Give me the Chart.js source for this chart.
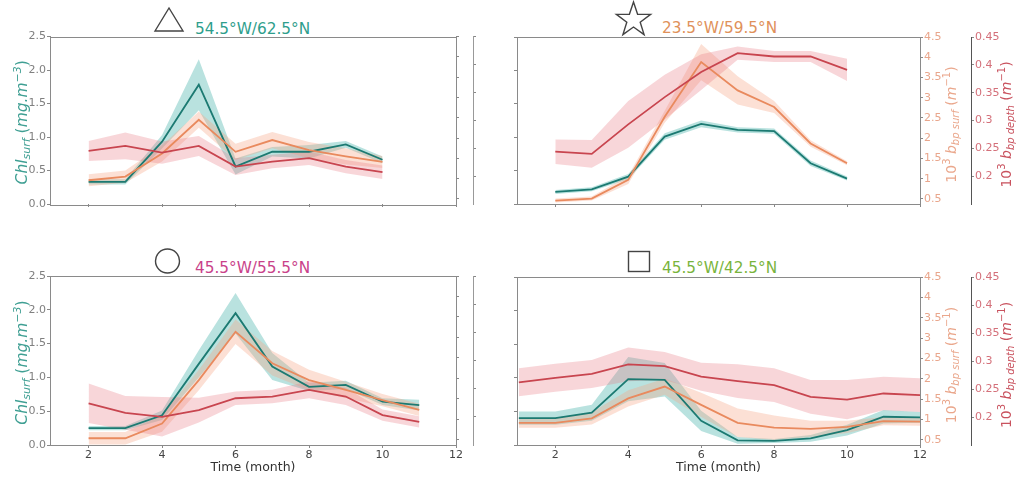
<!DOCTYPE html>
<html>
<head>
<meta charset="utf-8">
<script src="https://cdn.jsdelivr.net/npm/chart.js@4.4.1/dist/chart.umd.min.js"></script>
<style>
  body { margin: 0; background: #fff; width: 1024px; height: 478px; overflow: hidden; position: relative; font-family: "DejaVu Sans", sans-serif; }
  canvas { position: absolute; }
  .ttl { position: absolute; font-size: 15.3px; line-height: 16px; white-space: nowrap; }
  svg { position: absolute; left: 0; top: 0; }
</style>
</head>
<body>
<svg width="1024" height="478">
  <polygon points="155,31 169,8 183,31" fill="none" stroke="#444" stroke-width="1.4"/>
  <path id="star" fill="none" stroke="#444" stroke-width="1.4"/>
  <circle cx="167.5" cy="261" r="12" fill="none" stroke="#444" stroke-width="1.4"/>
  <rect x="628.5" y="251.5" width="21" height="20" fill="none" stroke="#444" stroke-width="1.4"/>
</svg>
<div class="ttl" style="left:195px;top:21px;color:#2e9e8c">54.5°W/62.5°N</div>
<div class="ttl" style="left:662px;top:20px;color:#e0915a">23.5°W/59.5°N</div>
<div class="ttl" style="left:195px;top:260px;color:#c9428a">45.5°W/55.5°N</div>
<div class="ttl" style="left:662px;top:260px;color:#79b43c">45.5°W/42.5°N</div>

<canvas id="tl" width="500" height="230" style="left:0;top:0"></canvas>
<canvas id="tr" width="524" height="230" style="left:500px;top:0"></canvas>
<canvas id="bl" width="500" height="248" style="left:0;top:230px"></canvas>
<canvas id="br" width="524" height="248" style="left:500px;top:230px"></canvas>

<script>
// axis ticks
const monthTicks = [2, 4, 6, 8, 10, 12];
const chlTicks = [0, 0.5, 1, 1.5, 2, 2.5];
const surfTicks = [0.5, 1, 1.5, 2, 2.5, 3, 3.5, 4, 4.5];
const depthTicks = [0.2, 0.25, 0.3, 0.35, 0.4, 0.45];

// 54.5W / 62.5N (triangle)
const tlMonths = [2, 3, 4, 5, 6, 7, 8, 9, 10];
const tlChl = [0.33, 0.33, 0.93, 1.78, 0.56, 0.78, 0.78, 0.89, 0.66];
const tlChlSd = [0.04, 0.04, 0.10, 0.38, 0.12, 0.07, 0.10, 0.05, 0.05];
const tlSurf = [0.96, 1.05, 1.62, 2.45, 1.66, 1.95, 1.70, 1.55, 1.41];
const tlSurfSd = [0.15, 0.15, 0.20, 0.20, 0.20, 0.20, 0.20, 0.20, 0.15];
const tlDepth = [0.245, 0.254, 0.242, 0.254, 0.217, 0.226, 0.232, 0.217, 0.207];
const tlDepthSd = [0.018, 0.024, 0.020, 0.018, 0.015, 0.012, 0.012, 0.012, 0.012];

// 23.5W / 59.5N (star)
const trMonths = [2, 3, 4, 5, 6, 7, 8, 9, 10];
const trChl = [0.18, 0.22, 0.41, 1.01, 1.20, 1.11, 1.09, 0.61, 0.38];
const trChlSd = [0.03, 0.03, 0.04, 0.05, 0.05, 0.04, 0.04, 0.04, 0.03];
const trSurf = [0.46, 0.51, 0.97, 2.53, 3.88, 3.18, 2.77, 1.87, 1.38];
const trSurfSd = [0.05, 0.05, 0.10, 0.15, 0.45, 0.35, 0.15, 0.08, 0.05];
const trDepth = [0.244, 0.240, 0.293, 0.342, 0.387, 0.421, 0.415, 0.415, 0.391];
const trDepthSd = [0.022, 0.025, 0.042, 0.040, 0.032, 0.012, 0.010, 0.010, 0.020];

// 45.5W / 55.5N (circle)
const blMonths = [2, 3, 4, 5, 6, 7, 8, 9, 10, 11];
const blChl = [0.25, 0.25, 0.44, 1.20, 1.95, 1.16, 0.86, 0.89, 0.64, 0.59];
const blChlSd = [0.03, 0.03, 0.07, 0.20, 0.30, 0.20, 0.06, 0.06, 0.05, 0.08];
const blSurf = [0.54, 0.54, 0.90, 1.96, 3.14, 2.37, 1.96, 1.72, 1.47, 1.23];
const blSurfSd = [0.15, 0.15, 0.20, 0.25, 0.30, 0.30, 0.25, 0.20, 0.15, 0.15];
const blDepth = [0.224, 0.207, 0.200, 0.212, 0.233, 0.236, 0.248, 0.236, 0.203, 0.191];
const blDepthSd = [0.035, 0.030, 0.035, 0.022, 0.012, 0.012, 0.015, 0.015, 0.010, 0.010];

// 45.5W / 42.5N (square)
const brMonths = [1, 2, 3, 4, 5, 6, 7, 8, 9, 10, 11, 12];
const brChl = [0.40, 0.40, 0.48, 0.98, 0.97, 0.36, 0.07, 0.06, 0.10, 0.22, 0.42, 0.41];
const brChlSd = [0.10, 0.10, 0.12, 0.33, 0.25, 0.15, 0.05, 0.03, 0.05, 0.08, 0.10, 0.08];
const brSurf = [0.92, 0.92, 1.03, 1.52, 1.81, 1.36, 0.92, 0.80, 0.77, 0.82, 0.96, 0.95];
const brSurfSd = [0.12, 0.12, 0.15, 0.20, 0.20, 0.30, 0.35, 0.30, 0.20, 0.15, 0.10, 0.10];
const brDepth = [0.262, 0.270, 0.277, 0.294, 0.291, 0.272, 0.264, 0.257, 0.236, 0.231, 0.242, 0.239];
const brDepthSd = [0.025, 0.025, 0.025, 0.030, 0.025, 0.025, 0.030, 0.030, 0.030, 0.035, 0.030, 0.030];

const tealLine = '#1c7a72', tealBand = 'rgba(70,180,170,0.38)';
const orangeLine = '#e98a5e', orangeBand = 'rgba(245,165,135,0.35)';
const redLine = '#c8454f', redBand = 'rgba(232,120,130,0.30)';

// star outline
(function () {
  let d = '';
  for (let k = 0; k < 10; k++) {
    const r = k % 2 ? 7 : 18;
    const a = -Math.PI / 2 + k * Math.PI / 5;
    d += (k ? 'L' : 'M') + (633.5 + r * Math.cos(a)).toFixed(1) + ',' + (20 + r * Math.sin(a)).toFixed(1);
  }
  document.getElementById('star').setAttribute('d', d + 'Z');
})();

// rotated text with sub/superscripts
function richText(ctx, cx, cy, parts, color) {
  ctx.save();
  ctx.translate(cx, cy);
  ctx.rotate(-Math.PI / 2);
  ctx.fillStyle = color;
  ctx.textBaseline = 'alphabetic';
  let w = 0;
  parts.forEach(p => { ctx.font = p.f; w += ctx.measureText(p.t).width; });
  let x = -w / 2;
  parts.forEach(p => {
    ctx.font = p.f;
    ctx.fillText(p.t, x, 5 + (p.dy || 0));
    x += ctx.measureText(p.t).width;
  });
  ctx.restore();
}

const F = 'DejaVu Sans';
const chlTitle = [
  {t: 'Chl', f: 'italic 15.5px ' + F},
  {t: 'surf', f: 'italic 11px ' + F, dy: 3},
  {t: ' (', f: '15.5px ' + F},
  {t: 'mg.m', f: 'italic 15.5px ' + F},
  {t: '\u22123', f: 'italic 11px ' + F, dy: -6},
  {t: ')', f: '15.5px ' + F}
];
function bbpTitle(sub) {
  return [
    {t: '10', f: '14px ' + F},
    {t: '3', f: '10px ' + F, dy: -6},
    {t: ' ', f: '14px ' + F},
    {t: 'b', f: 'italic 14px ' + F},
    {t: sub, f: 'italic 10px ' + F, dy: 3},
    {t: ' (', f: '14px ' + F},
    {t: 'm', f: 'italic 14px ' + F},
    {t: '\u22121', f: '10px ' + F, dy: -6},
    {t: ')', f: '14px ' + F}
  ];
}

function yAxis(pos, min, max, ticks, width, color, show, fmt, borderColor) {
  return {
    type: 'linear', position: pos, min: min, max: max,
    afterBuildTicks: s => { s.ticks = ticks.map(v => ({value: v})); },
    afterFit: s => { s.width = width; },
    border: {display: true, color: borderColor, width: 1},
    grid: {display: true, drawOnChartArea: false, drawTicks: true, tickLength: 3, color: '#888'},
    ticks: {color: color, font: {size: 11, family: F}, padding: 1, autoSkip: false,
            callback: v => show ? fmt(v) : ''}
  };
}

function makePanel(id, p) {
  const datasets = [];
  function addSeries(vals, sd, axis, line, band, order) {
    datasets.push({data: p.months.map((m, i) => ({x: m, y: vals[i] + sd[i]})), yAxisID: axis,
      borderWidth: 0, borderColor: 'transparent', pointRadius: 0, fill: '+1', backgroundColor: band, order: order + 10});
    datasets.push({data: p.months.map((m, i) => ({x: m, y: vals[i] - sd[i]})), yAxisID: axis,
      borderWidth: 0, borderColor: 'transparent', pointRadius: 0, fill: false, order: order + 10});
    datasets.push({data: p.months.map((m, i) => ({x: m, y: vals[i]})), yAxisID: axis,
      borderColor: line, borderWidth: 1.8, pointRadius: 0, fill: false, tension: 0, order: order});
  }
  addSeries(p.chl, p.chlSd, 'chl', tealLine, tealBand, 2);
  addSeries(p.surf, p.surfSd, 'surf', orangeLine, orangeBand, 1);
  addSeries(p.depth, p.depthSd, 'depth', redLine, redBand, 0);

  const deco = {
    id: 'deco',
    afterDraw(chart) {
      const ctx = chart.ctx, a = chart.chartArea;
      ctx.save();
      ctx.strokeStyle = '#8a8a8a';
      ctx.lineWidth = 1;
      ctx.strokeRect(Math.round(a.left) + 0.5, Math.round(a.top) + 0.5, Math.round(a.right - a.left), Math.round(a.bottom - a.top));
      ctx.restore();
      const cy = (a.top + a.bottom) / 2 + 4;
      if (p.isLeft) {
        richText(ctx, 22, cy - 2, chlTitle, '#3f9f93');
      } else {
        richText(ctx, 451, cy, bbpTitle('bp surf'), '#eaa78c');
        richText(ctx, 506, cy, bbpTitle('bp depth'), '#c9525e');
      }
    }
  };

  new Chart(document.getElementById(id), {
    type: 'line',
    data: {datasets: datasets},
    options: {
      responsive: false,
      animation: false,
      layout: {padding: {top: p.top, left: 0, right: 0, bottom: 0}},
      plugins: {legend: {display: false}, tooltip: {enabled: false}},
      scales: {
        x: {
          type: 'linear', min: 0.95, max: 12,
          afterBuildTicks: s => { s.ticks = monthTicks.map(v => ({value: v})); },
          afterFit: s => { s.height = p.xh; },
          border: {display: false},
          grid: {drawOnChartArea: false, drawTicks: true, tickLength: 3, color: '#888'},
          ticks: {color: '#444', font: {size: 11, family: F}, padding: 1, maxRotation: 0, autoSkip: false,
                  callback: v => p.isBottom ? String(v) : ''},
          title: {display: p.isBottom, text: 'Time (month)', color: '#333', font: {size: 12.5, family: F}, padding: {top: 0, bottom: 3}}
        },
        chl: yAxis('left', 0, 2.5, chlTicks, p.leftW, '#808080', p.isLeft, v => v.toFixed(1), '#8a8a8a'),
        surf: yAxis('right', 0.375, 4.5, surfTicks, p.surfW, '#e9a68c', !p.isLeft, v => String(v), '#8a8a8a'),
        depth: yAxis('right', 0.15, 0.45, depthTicks, p.depthW, '#d4707a', !p.isLeft, v => String(v), p.isLeft ? '#999' : '#555')
      }
    },
    plugins: [deco]
  });
}

makePanel('tl', {months: tlMonths, chl: tlChl, chlSd: tlChlSd, surf: tlSurf, surfSd: tlSurfSd, depth: tlDepth, depthSd: tlDepthSd,
  isLeft: true, isBottom: false, top: 36.5, xh: 26, leftW: 50, surfW: 17, depthW: 27});
makePanel('tr', {months: trMonths, chl: trChl, chlSd: trChlSd, surf: trSurf, surfSd: trSurfSd, depth: trDepth, depthSd: trDepthSd,
  isLeft: false, isBottom: false, top: 37, xh: 26, leftW: 17, surfW: 51, depthW: 53});
makePanel('bl', {months: blMonths, chl: blChl, chlSd: blChlSd, surf: blSurf, surfSd: blSurfSd, depth: blDepth, depthSd: blDepthSd,
  isLeft: true, isBottom: true, top: 46, xh: 33, leftW: 50, surfW: 17, depthW: 27});
makePanel('br', {months: brMonths, chl: brChl, chlSd: brChlSd, surf: brSurf, surfSd: brSurfSd, depth: brDepth, depthSd: brDepthSd,
  isLeft: false, isBottom: true, top: 47, xh: 33, leftW: 17, surfW: 51, depthW: 53});
</script>
</body>
</html>
